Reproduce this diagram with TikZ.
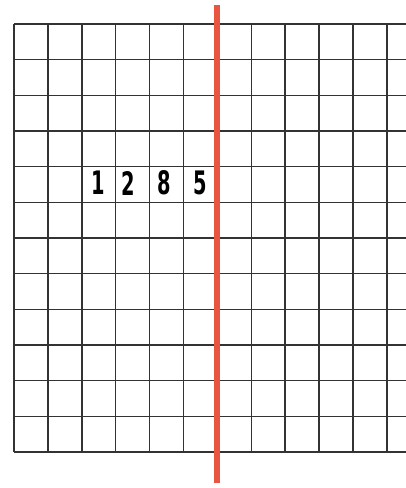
\documentclass[tikz,border=0pt]{standalone}
\usepackage{fontspec}
\newfontfamily\segfont[FakeStretch=0.6]{DejaVu Sans}
\definecolor{cutred}{RGB}{232,86,66}
\tikzset{
  gridline/.style={black!80, line width=1.05},
  cutline/.style={cutred, line width=4.3},
  segdigit/.style={font=\segfont\bfseries\fontsize{23}{23}\selectfont, inner sep=0pt}
}
\begin{document}
\begin{tikzpicture}[x=0.8475cm, y=0.8917cm]
\useasboundingbox (-0.413,-1.009) rectangle (11.563,12.673);
% grid
\foreach \i in {0,1,...,12} {
\draw[gridline] (0,\i) -- (11.563,\i);
}
\foreach \j in {0,1,...,11} {
\draw[gridline] (\j,0) -- (\j,12);
}
% digits in row 7
\node[segdigit] (d1) at (2.48,7.54) {1};
\node[segdigit] (d2) at (3.36,7.54) {2};
\node[segdigit] (d3) at (4.42,7.54) {8};
\node[segdigit] (d4) at (5.49,7.54) {5};
% red line
\draw[cutline] (6,-0.87) -- (6,12.53);
\end{tikzpicture}
\end{document}
